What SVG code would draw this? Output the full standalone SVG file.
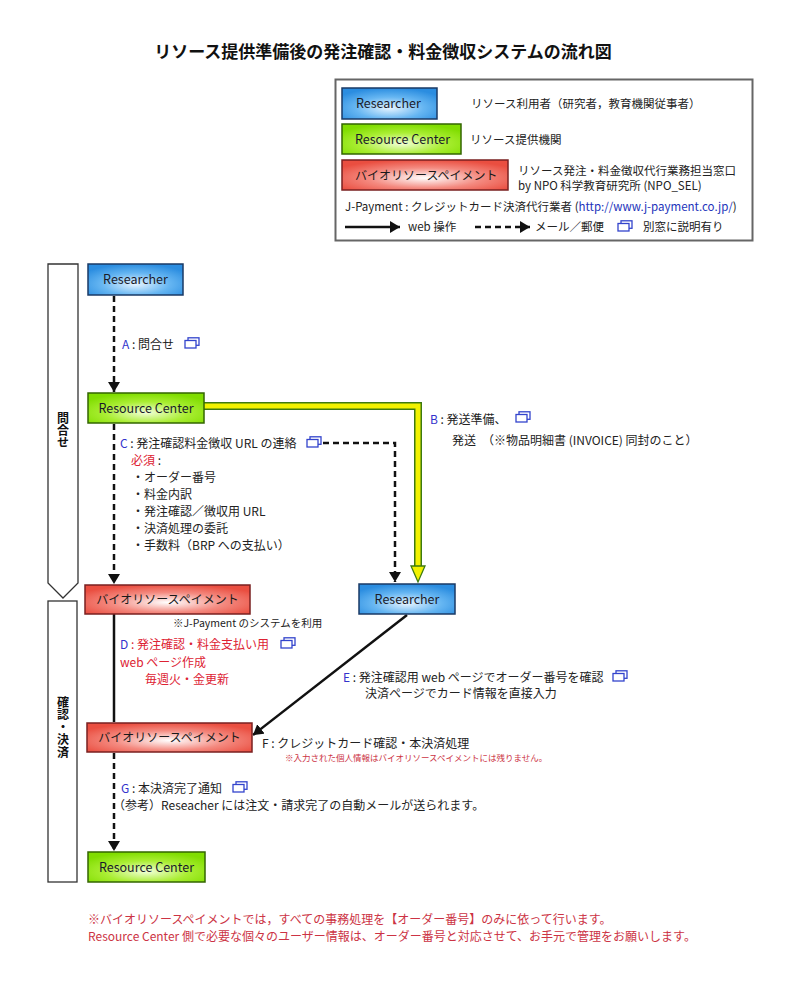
<svg xmlns="http://www.w3.org/2000/svg" width="800" height="990" viewBox="0 0 800 990">
<style>
text{font-family:"Noto Sans CJK JP","Noto Sans",sans-serif;font-size:12px;fill:#222}
.t{font-size:17px;font-weight:bold;fill:#111}
.lg{font-size:11.5px}
.nd{font-size:12.5px;fill:#1a1a2a}
.nr{font-size:12px;fill:#1a1a1a}
.bl{fill:#3333cc}
.rd{fill:#dd2233}
.sm{font-size:10.5px}
.xs{font-size:8.5px;fill:#cc3344}
.vt{font-weight:bold;font-size:12px;fill:#111}
.band{fill:#fff;stroke:#333;stroke-width:1.3}
.dash{fill:none;stroke:#111;stroke-width:2.5;stroke-dasharray:6 4}
.solid{fill:none;stroke:#111;stroke-width:2.5}
.nb{stroke:#1a3a66;stroke-width:1.5}
.ng{stroke:#336600;stroke-width:1.5}
.nrr{stroke:#7a2020;stroke-width:1.5}
.note{fill:#cc3344;font-size:12px}
</style>
<defs>
<radialGradient id="gb" cx="50%" cy="65%" r="65%">
<stop offset="0" stop-color="#e6f4ff"/><stop offset="0.55" stop-color="#66b6f2"/><stop offset="1" stop-color="#2b8de0"/>
</radialGradient>
<radialGradient id="gg" cx="50%" cy="65%" r="65%">
<stop offset="0" stop-color="#f2ffd8"/><stop offset="0.55" stop-color="#aaee33"/><stop offset="1" stop-color="#80dd00"/>
</radialGradient>
<radialGradient id="gr" cx="50%" cy="60%" r="62%">
<stop offset="0" stop-color="#ffffff"/><stop offset="0.55" stop-color="#f48a80"/><stop offset="1" stop-color="#ea4e40"/>
</radialGradient>
<marker id="ah" viewBox="0 0 10 12" refX="10" refY="6" markerWidth="10" markerHeight="12" markerUnits="userSpaceOnUse" orient="auto">
<path d="M0,0 L10,6 L0,12 Z" fill="#111"/>
</marker>
<symbol id="win" viewBox="0 0 16 12">
<rect x="4" y="0.8" width="11" height="7.5" fill="#fff" stroke="#3344cc" stroke-width="1.3"/>
<rect x="1" y="3.5" width="11" height="7.5" fill="#fff" stroke="#3344cc" stroke-width="1.3"/>
</symbol>
</defs>
<rect width="800" height="990" fill="#fff"/>

<text class="t" x="383" y="58" text-anchor="middle">リソース提供準備後の発注確認・料金徴収システムの流れ図</text>

<g id="legend">
<rect x="335.5" y="79.5" width="417" height="161" fill="#fff" stroke="#666" stroke-width="2"/>
<rect x="342" y="88" width="95" height="31" fill="url(#gb)" class="nb"/>
<text class="nd" x="356" y="108">Researcher</text>
<text class="lg" x="471" y="108">リソース利用者（研究者，教育機関従事者）</text>
<rect x="342" y="124" width="119" height="30" fill="url(#gg)" class="ng"/>
<text class="nd" x="355" y="144">Resource Center</text>
<text class="lg" x="470" y="144">リソース提供機関</text>
<rect x="342" y="160" width="166" height="30" fill="url(#gr)" class="nrr"/>
<text class="nr" x="355" y="180">バイオリソースペイメント</text>
<text class="lg" x="518" y="175">リソース発注・料金徴収代行業務担当窓口</text>
<text class="lg" x="518" y="190">by NPO 科学教育研究所 (NPO_SEL)</text>
<text class="lg" x="345" y="211">J-Payment : クレジットカード決済代行業者 (<tspan fill="#2233bb">http://www.j-payment.co.jp/</tspan>)</text>
<line x1="345" y1="227" x2="400" y2="227" class="solid" stroke-width="2" marker-end="url(#ah)"/>
<text class="lg" x="408" y="231">web 操作</text>
<line x1="475" y1="227" x2="530" y2="227" class="dash" stroke-width="2" marker-end="url(#ah)"/>
<text class="lg" x="535" y="231">メール／郵便</text>
<use href="#win" x="617" y="220" width="16" height="12"/>
<text class="lg" x="643" y="231">別窓に説明有り</text>
</g>

<g id="phase-bands">
<path class="band" d="M48,264 H78 V583 L63,598 L48,583 Z"/>
<text class="vt" x="63" y="412" writing-mode="vertical-rl">問合せ</text>
<rect class="band" x="48" y="601" width="29" height="281"/>
<text class="vt" x="63" y="696" writing-mode="vertical-rl" letter-spacing="0.5">確認・決済</text>
</g>

<g id="connectors">
<line x1="114" y1="296" x2="114" y2="392" class="dash" marker-end="url(#ah)"/>
<line x1="114" y1="424" x2="114" y2="584" class="dash" marker-end="url(#ah)"/>
<path d="M323,443 H395 V582" class="dash" marker-end="url(#ah)"/>
<path d="M204,406 H418 V568" fill="none" stroke="#3d7a10" stroke-width="8"/>
<path d="M204,406 H418 V569" fill="none" stroke="#f2f200" stroke-width="5"/>
<path d="M411,566 L425,566 L418,582 Z" fill="#f2f200" stroke="#3d7a10" stroke-width="1.3"/>
<line x1="114" y1="614" x2="114" y2="722" class="solid"/>
<line x1="407" y1="615" x2="253" y2="735" class="solid" marker-end="url(#ah)"/>
<line x1="114" y1="753" x2="114" y2="851" class="dash" marker-end="url(#ah)"/>
</g>

<g id="labels">
<text x="122" y="349"><tspan class="bl">A</tspan> : 問合せ</text>
<use href="#win" x="184" y="337" width="16" height="12"/>
<text x="430" y="424"><tspan class="bl">B</tspan> : 発送準備、</text>
<use href="#win" x="515" y="411" width="16" height="12"/>
<text x="452" y="445">発送　（※物品明細書 (INVOICE) 同封のこと）</text>
<text x="120" y="448"><tspan class="bl">C</tspan> : 発注確認料金徴収 URL の連絡</text>
<use href="#win" x="306" y="436" width="16" height="12"/>
<text x="131" y="465"><tspan class="rd">必須</tspan> :</text>
<text x="132" y="482">・オーダー番号</text>
<text x="132" y="499">・料金内訳</text>
<text x="132" y="516">・発注確認／徴収用 URL</text>
<text x="132" y="533">・決済処理の委託</text>
<text x="132" y="550">・手数料（BRP への支払い）</text>
<text class="sm" x="173" y="627">※J-Payment のシステムを利用</text>
<text x="120" y="649" font-size="13"><tspan class="bl">D</tspan><tspan class="rd"> : 発注確認・料金支払い用</tspan></text>
<use href="#win" x="280" y="637" width="16" height="12"/>
<text class="rd" x="120" y="667" font-size="13">web ページ作成</text>
<text class="rd" x="145" y="684" font-size="13">毎週火・金更新</text>
<text x="343" y="682"><tspan class="bl">E</tspan> : 発注確認用 web ページでオーダー番号を確認</text>
<use href="#win" x="612" y="670" width="16" height="12"/>
<text x="365" y="698">決済ページでカード情報を直接入力</text>
<text x="262" y="748">F : クレジットカード確認・本決済処理</text>
<text class="xs" x="285" y="761">※入力された個人情報はバイオリソースペイメントには残りません。</text>
<text x="121" y="793"><tspan class="bl">G</tspan> : 本決済完了通知</text>
<use href="#win" x="232" y="781" width="16" height="12"/>
<text x="113" y="810">（参考）Reseacher には注文・請求完了の自動メールが送られます。</text>
</g>

<g id="n-researcher1">
<rect x="88" y="264" width="95" height="31" fill="url(#gb)" class="nb"/>
<text class="nd" x="135.5" y="284" text-anchor="middle">Researcher</text>
</g>
<g id="n-rc1">
<rect x="88" y="393" width="116" height="30" fill="url(#gg)" class="ng"/>
<text class="nd" x="146" y="413" text-anchor="middle">Resource Center</text>
</g>
<g id="n-researcher2">
<rect x="359" y="584" width="96" height="30" fill="url(#gb)" class="nb"/>
<text class="nd" x="407" y="604" text-anchor="middle">Researcher</text>
</g>
<g id="n-brp1">
<rect x="85" y="585" width="165" height="29" fill="url(#gr)" class="nrr"/>
<text class="nr" x="167.5" y="604" text-anchor="middle">バイオリソースペイメント</text>
</g>
<g id="n-brp2">
<rect x="87" y="723" width="165" height="29" fill="url(#gr)" class="nrr"/>
<text class="nr" x="169.5" y="742" text-anchor="middle">バイオリソースペイメント</text>
</g>
<g id="n-rc2">
<rect x="88" y="852" width="117" height="30" fill="url(#gg)" class="ng"/>
<text class="nd" x="146.5" y="872" text-anchor="middle">Resource Center</text>
</g>

<g id="footnote">
<text class="note" x="88" y="924">※バイオリソースペイメントでは，すべての事務処理を【オーダー番号】のみに依って行います。</text>
<text class="note" x="88" y="941">Resource Center 側で必要な個々のユーザー情報は、オーダー番号と対応させて、お手元で管理をお願いします。</text>
</g>
</svg>
